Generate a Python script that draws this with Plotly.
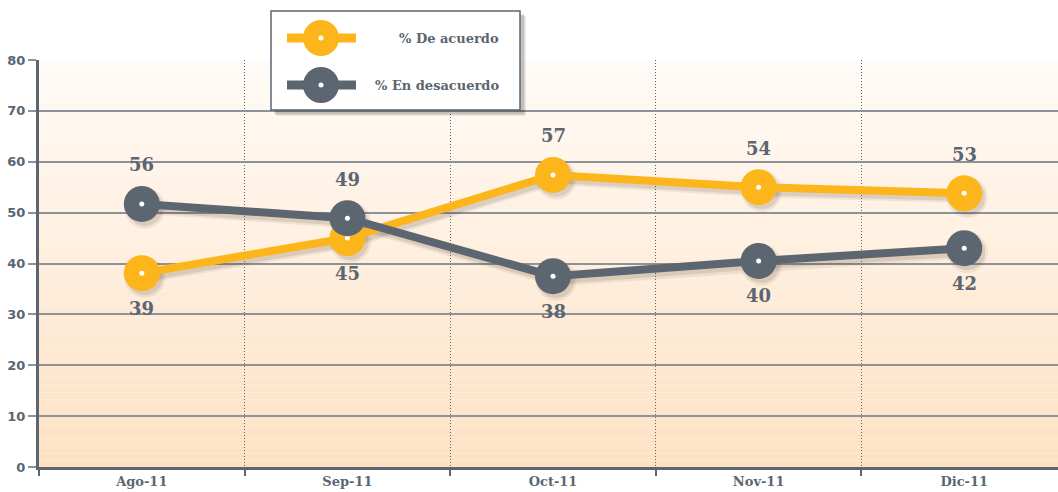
import plotly.graph_objects as go

# ---- data ----
months = ["Ago-11", "Sep-11", "Oct-11", "Nov-11", "Dic-11"]
acuerdo = [38.1, 45.0, 57.4, 55.0, 53.8]
desacuerdo = [51.7, 48.9, 37.5, 40.5, 43.0]
acuerdo_labels = ["39", "45", "57", "54", "53"]
desacuerdo_labels = ["56", "49", "38", "40", "42"]
acuerdo_side = ["below", "below", "above", "above", "above"]
desacuerdo_side = ["above", "above", "below", "below", "below"]
y_ticks = [0, 10, 20, 30, 40, 50, 60, 70, 80]
series_names = ["% De acuerdo", "% En desacuerdo"]

# ---- style ----
ORANGE = "#FDB51C"
GREY = "#5B6670"
GRID = "#8C9298"
FONT = "DejaVu Serif"
W, H = 1058, 492
ML, MT, MB, MR = 39, 60, 25, 0
PW, PH = W - ML - MR, H - MT - MB
XR = [-0.5, 4.456]
YR = [0, 80]
SDX, SDY = 3, 4  # shadow offset in px
dx = SDX * (XR[1] - XR[0]) / PW
dy = SDY * (YR[1] - YR[0]) / PH

def px(x):
    return (x - ML) / PW

def py(y):
    return (H - MB - y) / PH

fig = go.Figure()

# shadows (on the shifted primary axes)
for vals in [acuerdo, desacuerdo]:
    fig.add_trace(go.Scatter(
        x=months, y=vals, mode="lines+markers", xaxis="x", yaxis="y",
        line=dict(color="rgba(70,50,30,0.08)", width=12),
        marker=dict(size=41, color="rgba(70,50,30,0.08)"),
        showlegend=False, hoverinfo="skip", cliponaxis=False,
    ))
    fig.add_trace(go.Scatter(
        x=months, y=vals, mode="lines+markers", xaxis="x", yaxis="y",
        line=dict(color="rgba(70,50,30,0.12)", width=8),
        marker=dict(size=36, color="rgba(70,50,30,0.12)"),
        showlegend=False, hoverinfo="skip", cliponaxis=False,
    ))

for vals, color, name in [(acuerdo, ORANGE, series_names[0]), (desacuerdo, GREY, series_names[1])]:
    fig.add_trace(go.Scatter(
        x=months, y=vals, mode="lines+markers", name=name, xaxis="x2", yaxis="y2",
        line=dict(color=color, width=8),
        marker=dict(size=36, color=color),
        showlegend=False, hoverinfo="skip", cliponaxis=False,
    ))
    fig.add_trace(go.Scatter(
        x=months, y=vals, mode="markers", showlegend=False, hoverinfo="skip",
        xaxis="x2", yaxis="y2",
        marker=dict(size=5, color="white"), cliponaxis=False,
    ))

annotations = []
for vals, labels, sides in [(acuerdo, acuerdo_labels, acuerdo_side),
                            (desacuerdo, desacuerdo_labels, desacuerdo_side)]:
    for m, v, t, s in zip(months, vals, labels, sides):
        annotations.append(dict(
            x=m, y=v, xref="x2", yref="y2", text=t, showarrow=False,
            yshift=39 if s == "above" else -35,
            font=dict(family=FONT, size=18, color=GREY, weight="bold"),
        ))

shapes = []
# gradient background
N = 60
top = (255, 251, 247)
bot = (254, 225, 195)
for i in range(N):
    f = (i + 0.5) / N
    c = tuple(round(bot[k] + (top[k] - bot[k]) * f) for k in range(3))
    shapes.append(dict(type="rect", xref="x2 domain", yref="y2 domain",
                       x0=0, x1=1, y0=i / N, y1=(i + 1) / N,
                       fillcolor="rgb(%d,%d,%d)" % c, line=dict(width=0), layer="below"))

# custom legend
lx0, lx1, ly0, ly1 = 271, 520, 11, 110
for off, a in [(6, 0.07), (5, 0.08), (4, 0.10)]:
    shapes.append(dict(type="rect", xref="paper", yref="paper",
                       x0=px(lx0 + off - 1), x1=px(lx1 + off), y0=py(ly1 + off), y1=py(ly0 + off - 1),
                       fillcolor="rgba(0,0,0,%.2f)" % a, line=dict(width=0), layer="above"))
shapes.append(dict(type="rect", xref="paper", yref="paper",
                   x0=px(lx0), x1=px(lx1), y0=py(ly1), y1=py(ly0),
                   fillcolor="white", line=dict(color=GREY, width=1.5), layer="above"))
for (yc, color, name) in [(38, ORANGE, series_names[0]), (85, GREY, series_names[1])]:
    shapes.append(dict(type="line", xref="paper", yref="paper",
                       x0=px(287), x1=px(356), y0=py(yc), y1=py(yc),
                       line=dict(color=color, width=9), layer="above"))
    shapes.append(dict(type="circle", xref="paper", yref="paper",
                       x0=px(321 - 18), x1=px(321 + 18), y0=py(yc + 18), y1=py(yc - 18),
                       fillcolor=color, line=dict(width=0), layer="above"))
    shapes.append(dict(type="circle", xref="paper", yref="paper",
                       x0=px(321 - 2.5), x1=px(321 + 2.5), y0=py(yc + 2.5), y1=py(yc - 2.5),
                       fillcolor="white", line=dict(width=0), layer="above"))
    annotations.append(dict(x=px(501), y=py(yc), xref="paper", yref="paper",
                            text=name, showarrow=False, xanchor="right", yanchor="middle",
                            font=dict(family=FONT, size=13, color=GREY, weight="bold")))

fig.update_layout(
    width=W, height=H,
    margin=dict(l=ML, r=MR, t=MT, b=MB, pad=0),
    paper_bgcolor="white", plot_bgcolor="rgba(0,0,0,0)",
    shapes=shapes, annotations=annotations,
    showlegend=False,
    xaxis=dict(type="category", categoryarray=months, categoryorder="array",
               range=[XR[0] - dx, XR[1] - dx], visible=False, fixedrange=True),
    yaxis=dict(range=[YR[0] + dy, YR[1] + dy], visible=False, fixedrange=True),
    xaxis2=dict(
        type="category", categoryarray=months, categoryorder="array",
        overlaying="x", anchor="y2", side="bottom",
        range=XR, tickson="boundaries",
        showgrid=True, gridcolor=GREY, griddash="1px,2px", gridwidth=1,
        showline=True, linecolor=GREY, linewidth=3,
        ticks="outside", ticklen=6, tickcolor=GREY, tickwidth=1.5,
        tickfont=dict(family=FONT, size=13, color=GREY, weight="bold"),
        fixedrange=True,
    ),
    yaxis2=dict(
        overlaying="y", anchor="x2", side="left",
        range=YR, tickvals=y_ticks,
        showgrid=True, gridcolor=GRID, gridwidth=1.5,
        showline=True, linecolor=GREY, linewidth=3,
        ticks="outside", ticklen=8, tickcolor=GRID, tickwidth=1.5,
        tickfont=dict(family="DejaVu Sans", size=13, color=GREY, weight="bold"),
        zeroline=False, fixedrange=True,
    ),
)

fig.write_html(
    "out.html",
    config={"displayModeBar": False},
    post_script="document.body.style.margin='0';document.body.style.overflow='hidden';",
)
